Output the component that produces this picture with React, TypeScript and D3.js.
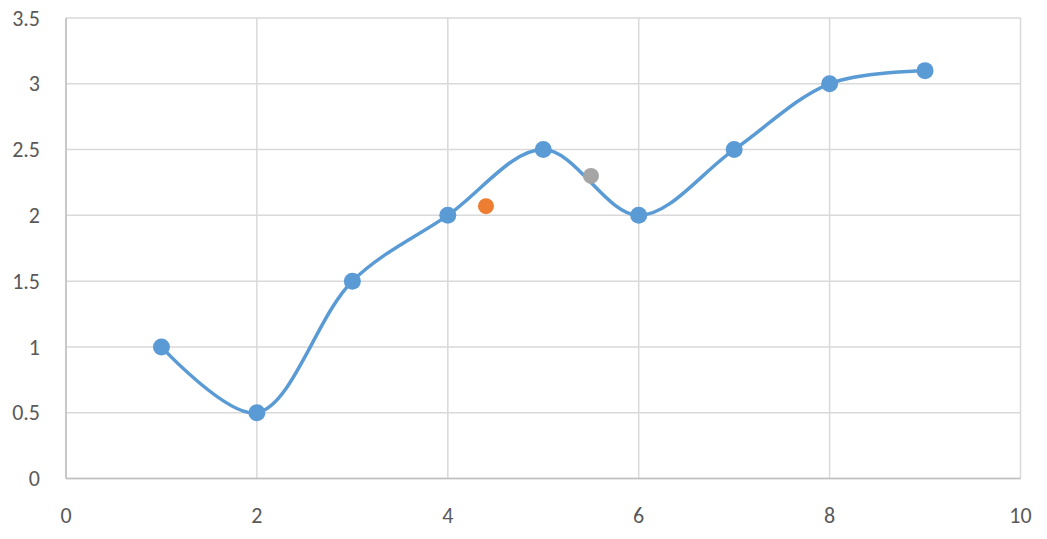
import React from "react";
import * as d3 from "d3";

const mainX = [1, 2, 3, 4, 5, 6, 7, 8, 9];
const mainY = [1, 0.5, 1.5, 2, 2.5, 2, 2.5, 3, 3.1];
const extraA = [{ x: 4.4, y: 2.07 }];
const extraB = [{ x: 5.5, y: 2.3 }];
const xTicks = [0, 2, 4, 6, 8, 10];
const yTicks = [0, 0.5, 1, 1.5, 2, 2.5, 3, 3.5];

export default function App() {
  const W = 1047, H = 539;
  const left = 66, right = 1020.5, top = 18, bottom = 478.5;
  const x = d3.scaleLinear().domain([0, 10]).range([left, right]);
  const y = d3.scaleLinear().domain([0, 3.5]).range([bottom, top]);
  const pts = mainX.map((v, i) => [x(v), y(mainY[i])] as [number, number]);
  const line = d3.line().curve(d3.curveCatmullRom.alpha(0.5))(pts) || "";
  const font = "Calibri, Carlito, 'Open Sans', sans-serif";
  return (
    <svg width={W} height={H} style={{ position: "absolute", left: 0, top: 0, background: "#fff" }}>
      {yTicks.map((t) => (
        <g key={"y" + t}>
          <line x1={left} x2={right} y1={y(t)} y2={y(t)} stroke="#D9D9D9" strokeWidth={1.5} />
          <text x={40} y={y(t)} dy="0.35em" textAnchor="end" fontSize={22} fill="#595959" fontFamily={font}>{t}</text>
        </g>
      ))}
      {xTicks.map((t) => (
        <g key={"x" + t}>
          <line x1={x(t)} x2={x(t)} y1={top} y2={bottom} stroke="#D9D9D9" strokeWidth={1.5} />
          <text x={x(t)} y={515} dy="0.35em" textAnchor="middle" fontSize={22} fill="#595959" fontFamily={font}>{t}</text>
        </g>
      ))}
      <line x1={left} x2={left} y1={top} y2={bottom} stroke="#BFBFBF" strokeWidth={1.5} />
      <line x1={left} x2={right} y1={bottom} y2={bottom} stroke="#BFBFBF" strokeWidth={1.5} />
      <path d={line} fill="none" stroke="#5B9BD5" strokeWidth={3.5} strokeLinecap="round" />
      {pts.map((p, i) => (
        <circle key={"m" + i} cx={p[0]} cy={p[1]} r={8.5} fill="#5B9BD5" />
      ))}
      {extraA.map((p, i) => (
        <circle key={"a" + i} cx={x(p.x)} cy={y(p.y)} r={8} fill="#ED7D31" />
      ))}
      {extraB.map((p, i) => (
        <circle key={"b" + i} cx={x(p.x)} cy={y(p.y)} r={8} fill="#A5A5A5" />
      ))}
    </svg>
  );
}
